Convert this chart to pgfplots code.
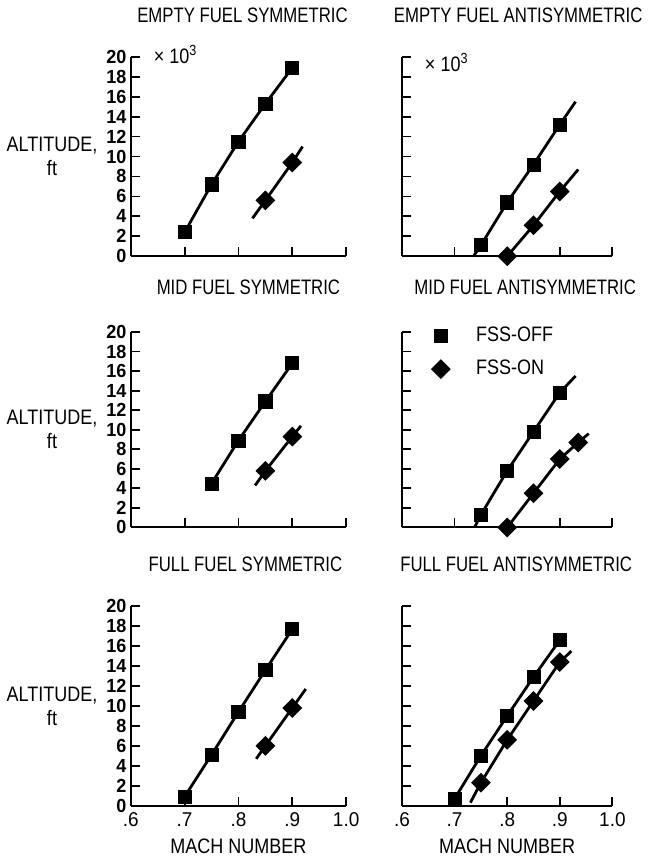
\documentclass[border=0pt]{standalone}
\usepackage{fontspec}
\setmainfont[FakeStretch=0.86]{Liberation Sans}
\newfontfamily\titlefont[FakeStretch=0.8]{Liberation Sans}
\newfontfamily\numfont[FakeStretch=0.95]{Liberation Sans}
\usepackage{pgfplots}
\pgfplotsset{compat=1.18}

\pgfplotsset{
  panel/.style={
    scale only axis,
    width=108pt, height=100pt,
    xmin=0.6, xmax=1.0, ymin=0, ymax=20,
    axis x line*=bottom, axis y line*=left,
    axis line style={line width=1pt, -},
    xtick={0.6,0.7,0.8,0.9,1.0},
    ytick={0,2,...,20},
    tick align=inside,
    major tick length=4.5pt,
    tick style={line width=0.9pt, black},
    xticklabels={}, yticklabels={},
    clip=false,
    title style={font=\titlefont\fontsize{10.5}{11}\selectfont, at={(0.5,1)}, anchor=center, yshift=12pt},
    /pgf/number format/assume math mode=true,
  },
  ln/.style={black, line width=1.4pt},
  sq/.style={black, only marks, mark=square*, mark size=3.3pt, mark options={line width=0.4pt}},
  dm/.style={black, only marks, mark=square*, mark size=3.3pt, mark options={rotate=45, line width=0.4pt}},
  leftcol/.style={
    yticklabels={0,2,4,6,8,10,12,14,16,18,20},
    yticklabel style={font=\numfont\bfseries\fontsize{9.5}{10}\selectfont, inner sep=2pt},
    ylabel={ALTITUDE,\\ft},
    every axis y label/.style={at={(axis description cs:0,0.5)}, anchor=center,
      xshift=-39.5pt, align=center, font=\fontsize{10.5}{12}\selectfont},
  },
  bottomrow/.style={
    xticklabels={.6,.7,.8,.9,1.0},
    xticklabel style={font=\numfont\fontsize{10}{10}\selectfont},
    xlabel={MACH NUMBER},
    xlabel style={font=\fontsize{10.5}{11}\selectfont, yshift=1pt},
  },
}

\begin{document}
\begin{tikzpicture}
\path (0,0) rectangle (325pt,430pt);

% ---- top row: empty fuel
\begin{axis}[panel, leftcol, at={(65pt,301.5pt)}, anchor=origin,
  title={EMPTY FUEL SYMMETRIC}, title style={xshift=2pt, yshift=3pt}]
\addplot[ln] coordinates {(0.70,2.4) (0.75,7.2) (0.80,11.5) (0.85,15.3) (0.90,18.9)};
\addplot[sq] coordinates {(0.70,2.4) (0.75,7.2) (0.80,11.5) (0.85,15.3) (0.90,18.9)};
\addplot[ln] coordinates {(0.826,3.8) (0.85,5.6) (0.90,9.4) (0.919,11.0)};
\addplot[dm] coordinates {(0.85,5.6) (0.90,9.4)};
\node[anchor=west, font=\fontsize{10.5}{11}\selectfont] at (axis description cs:0,1) [xshift=8pt,yshift=1pt] {× 10\textsuperscript{3}};
\end{axis}

\begin{axis}[panel, at={(201pt,301.5pt)}, anchor=origin, width=105.5pt,
  title={EMPTY FUEL ANTISYMMETRIC}, title style={xshift=5.5pt, yshift=3pt}]
\addplot[ln] coordinates {(0.736,0) (0.75,1.1) (0.80,5.4) (0.85,9.2) (0.90,13.2) (0.93,15.5)};
\addplot[sq] coordinates {(0.75,1.1) (0.80,5.4) (0.85,9.2) (0.90,13.2)};
\addplot[ln] coordinates {(0.80,0) (0.85,3.1) (0.90,6.5) (0.935,8.7)};
\addplot[dm] coordinates {(0.80,0) (0.85,3.1) (0.90,6.5)};
\node[anchor=west, font=\fontsize{10.5}{11}\selectfont] at (axis description cs:0,1) [xshift=8pt,yshift=-3pt] {× 10\textsuperscript{3}};
\end{axis}

% ---- middle row: mid fuel
\begin{axis}[panel, leftcol, at={(65pt,165.5pt)}, anchor=origin, height=98pt,
  title={MID FUEL SYMMETRIC}, title style={xshift=5pt, yshift=4.5pt}]
\addplot[ln] coordinates {(0.75,4.5) (0.80,8.9) (0.85,12.9) (0.90,16.8)};
\addplot[sq] coordinates {(0.75,4.5) (0.80,8.9) (0.85,12.9) (0.90,16.8)};
\addplot[ln] coordinates {(0.831,4.3) (0.85,5.8) (0.90,9.3) (0.916,10.4)};
\addplot[dm] coordinates {(0.85,5.8) (0.90,9.3)};
\end{axis}

\begin{axis}[panel, at={(201pt,165.5pt)}, anchor=origin, width=105.5pt, height=98pt,
  title={MID FUEL ANTISYMMETRIC}, title style={xshift=9pt, yshift=4.5pt},
  legend style={draw=none, fill=none, at={(axis description cs:0.11,1.07)}, anchor=north west,
    font=\fontsize{10.5}{11}\selectfont, row sep=4pt, column sep=11pt},
  legend cell align=left]
\addplot[ln, forget plot] coordinates {(0.738,0) (0.75,1.3) (0.80,5.8) (0.85,9.8) (0.90,13.8) (0.93,15.5)};
\addplot[sq] coordinates {(0.75,1.3) (0.80,5.8) (0.85,9.8) (0.90,13.8)};
\addplot[ln, forget plot] coordinates {(0.80,0) (0.85,3.5) (0.90,7.0) (0.935,8.7) (0.955,9.6)};
\addplot[dm] coordinates {(0.80,0) (0.85,3.5) (0.90,7.0) (0.935,8.7)};
\legend{FSS-OFF,FSS-ON}
\end{axis}

% ---- bottom row: full fuel
\begin{axis}[panel, leftcol, bottomrow, at={(65pt,26pt)}, anchor=origin,
  title={FULL FUEL SYMMETRIC}, title style={xshift=3.5pt, yshift=3pt}]
\addplot[ln] coordinates {(0.70,0.9) (0.75,5.1) (0.80,9.4) (0.85,13.6) (0.90,17.7)};
\addplot[sq] coordinates {(0.70,0.9) (0.75,5.1) (0.80,9.4) (0.85,13.6) (0.90,17.7)};
\addplot[ln] coordinates {(0.833,4.7) (0.85,6.0) (0.90,9.8) (0.925,11.7)};
\addplot[dm] coordinates {(0.85,6.0) (0.90,9.8)};
\end{axis}

\begin{axis}[panel, bottomrow, at={(201pt,26pt)}, anchor=origin, width=105.5pt,
  title={FULL FUEL ANTISYMMETRIC}, title style={xshift=4.5pt, yshift=3pt}]
\addplot[ln] coordinates {(0.70,0.7) (0.75,5.0) (0.80,9.0) (0.85,12.9) (0.90,16.6)};
\addplot[sq] coordinates {(0.70,0.7) (0.75,5.0) (0.80,9.0) (0.85,12.9) (0.90,16.6)};
\addplot[ln] coordinates {(0.73,0.3) (0.75,2.3) (0.80,6.6) (0.85,10.5) (0.90,14.4) (0.922,15.5)};
\addplot[dm] coordinates {(0.75,2.3) (0.80,6.6) (0.85,10.5) (0.90,14.4)};
\end{axis}
\end{tikzpicture}
\end{document}
